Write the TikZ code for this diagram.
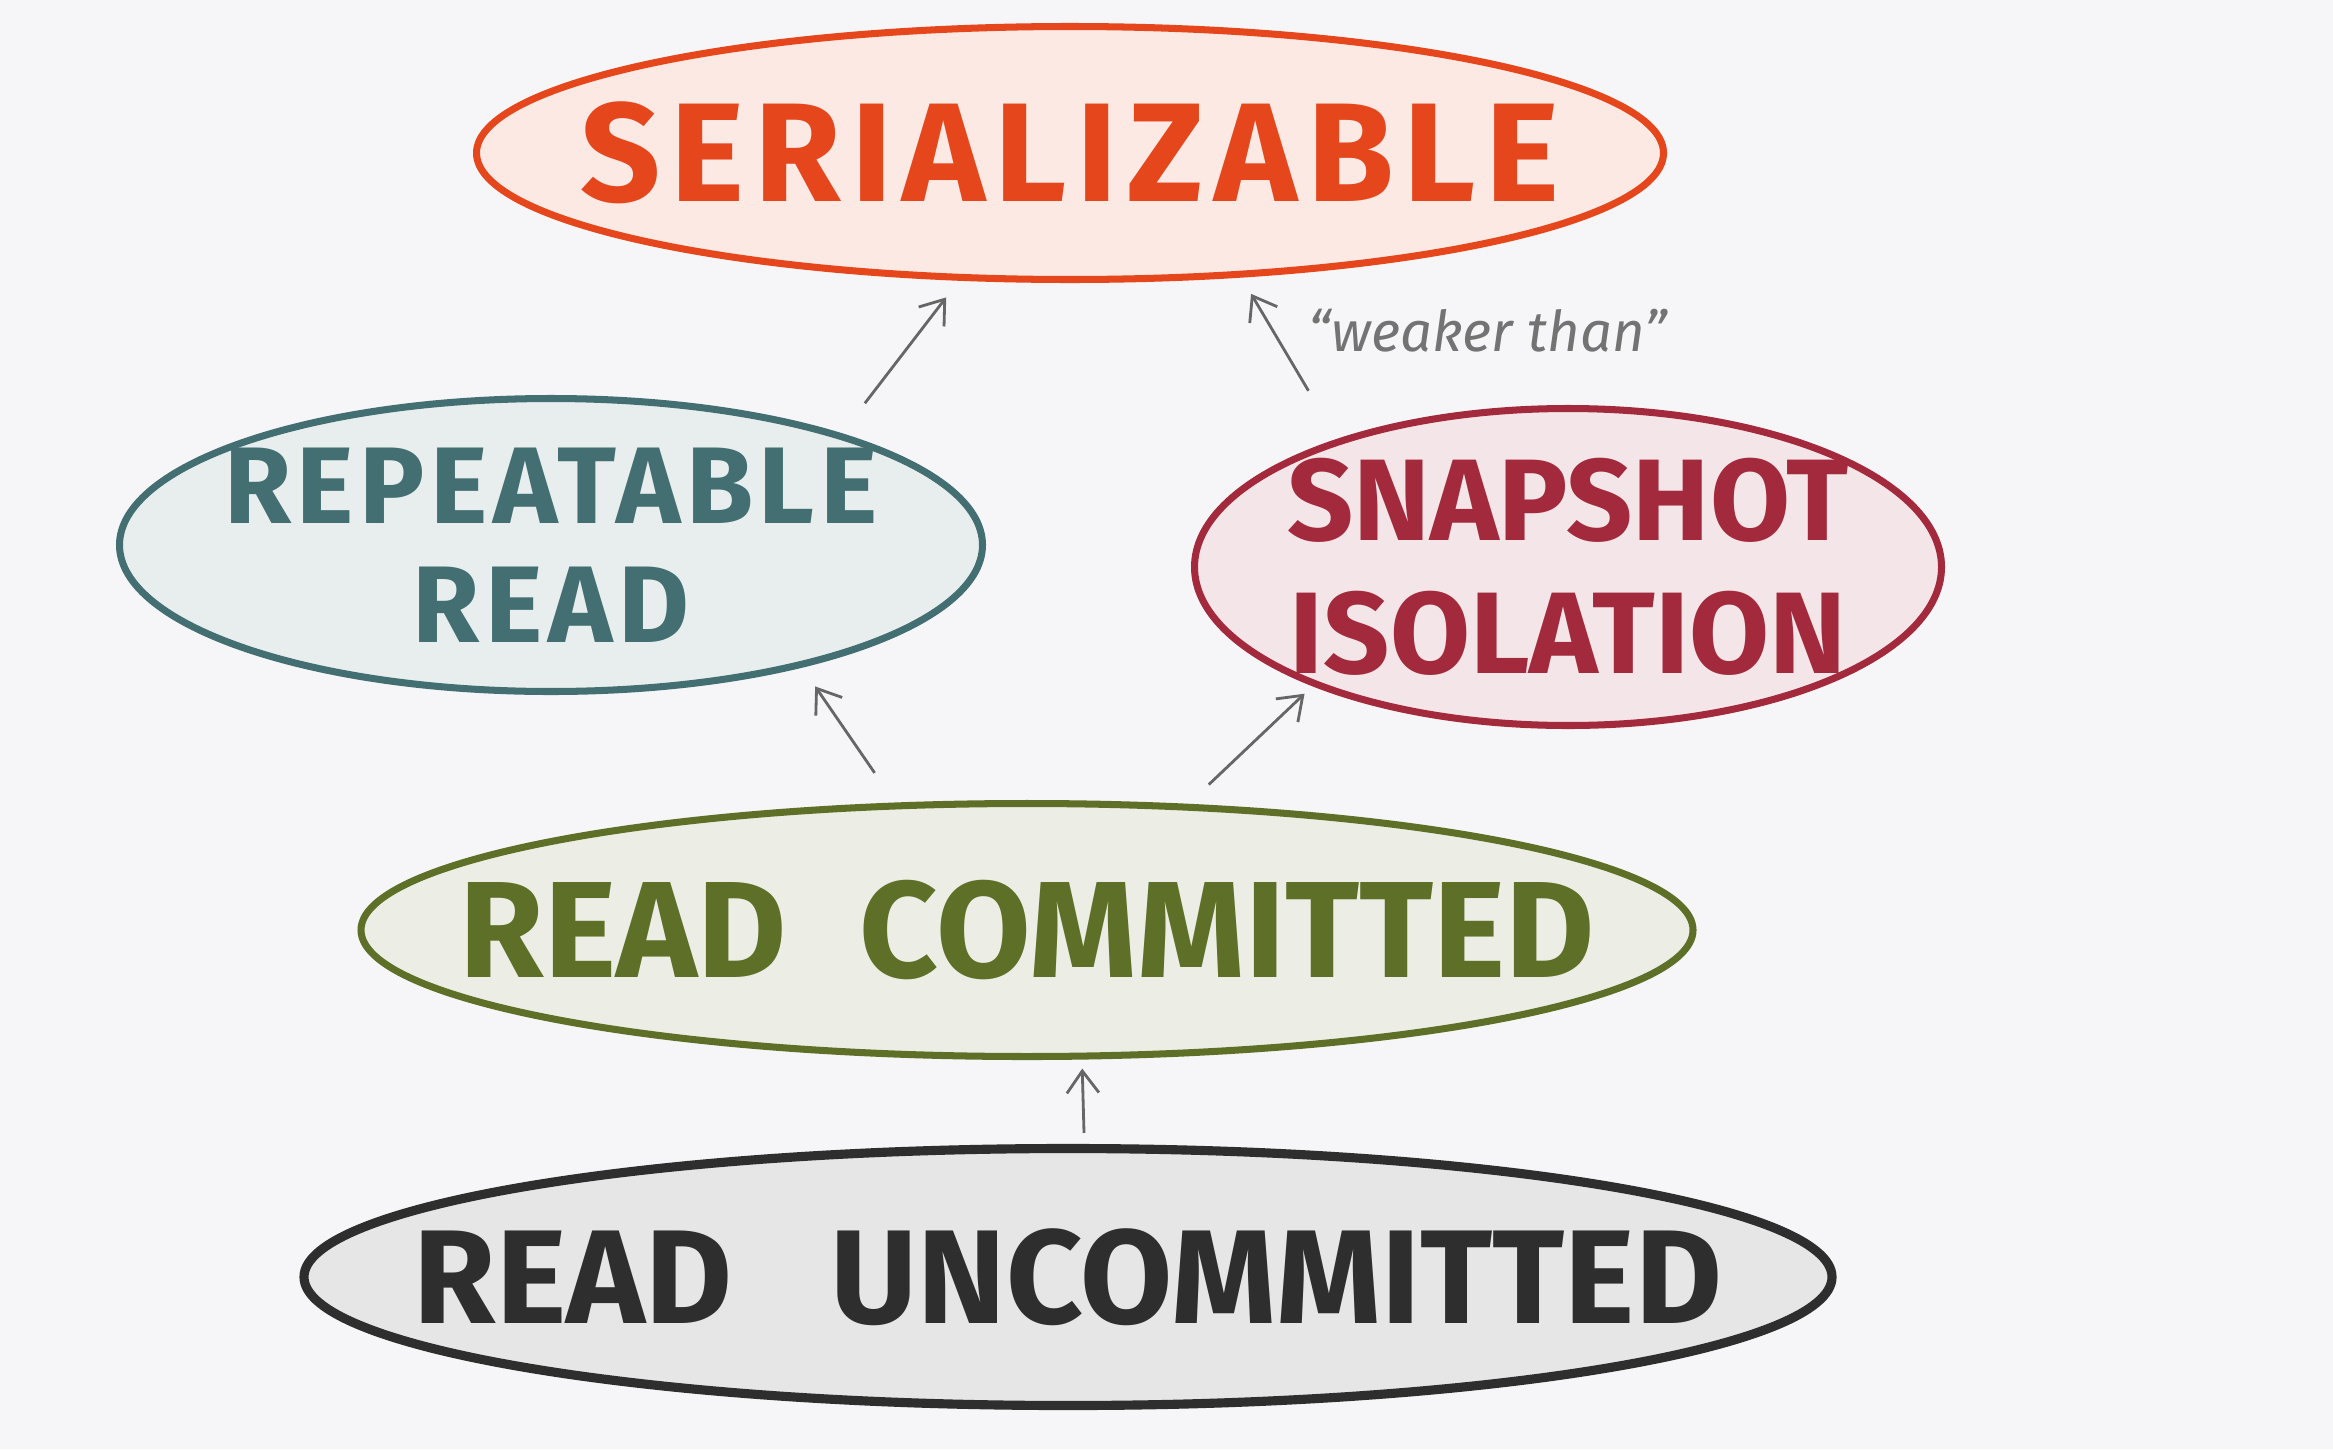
\documentclass[tikz,border=0pt]{standalone}
\usepackage{fontspec}
\setmainfont{Fira Sans}
\usetikzlibrary{arrows.meta,shapes.geometric}
\definecolor{bg}{HTML}{F6F6F8}
\definecolor{ser}{HTML}{E5461C}
\definecolor{rep}{HTML}{436F72}
\definecolor{snap}{HTML}{A32A3C}
\definecolor{com}{HTML}{5E6F27}
\definecolor{unc}{HTML}{2E2E2E}
\tikzset{iso/.style={ellipse,draw=#1,fill=#1!12,text=#1,line width=2pt,inner xsep=-1.3cm,inner ysep=-2mm,align=center},arrow/.style={-{Straight Barb[length=2.2mm,width=3.2mm]},draw=black!60,line width=0.8pt},lab/.style={text=black!55,font=\itshape\fontsize{16}{18}\selectfont}}

\begin{document}
\begin{tikzpicture}
\useasboundingbox[fill=bg] (0,0) rectangle (23.33,-14.49);
\node[iso=ser,minimum width=11.87cm,minimum height=2.53cm,font=\bfseries\fontsize{40}{46}\selectfont\addfontfeatures{LetterSpace=7}] (ser) at (10.70,-1.53) {SERIALIZABLE};
\node[iso=rep,minimum width=8.63cm,minimum height=2.93cm,font=\bfseries\fontsize{31}{34}\selectfont\addfontfeatures{LetterSpace=5}] (rr) at (5.51,-5.45) {REPEATABLE\\READ};
\node[iso=snap,minimum width=7.47cm,minimum height=3.17cm,font=\bfseries\fontsize{33}{38}\selectfont] (si) at (15.68,-5.67) {SNAPSHOT\\ISOLATION};
\node[iso=com,minimum width=13.32cm,minimum height=2.53cm,font=\bfseries\fontsize{39}{44}\selectfont] (rc) at (10.27,-9.30) {READ\hspace{0.3em} COMMITTED};
\node[iso=unc,minimum width=15.28cm,minimum height=2.57cm,line width=2.6pt,font=\bfseries\fontsize{38}{44}\selectfont] (ru) at (10.68,-12.77) {READ\hspace{0.5em} UNCOMMITTED};
\node[lab] (weaker) at (14.88,-3.31) {``weaker than''};
% weaker than
\draw[arrow,shorten <=3.8mm,shorten >=2.1mm] (rr.21.6) -- (ser.229.9);
\draw[arrow,shorten <=5.6mm,shorten >=1.9mm] (si.151) -- (ser.324);
\draw[arrow,shorten <=3.6mm,shorten >=2.3mm] (rc.136) -- (rr.334);
\draw[arrow,shorten <=2.8mm,shorten >=1.1mm] (rc.38.5) -- (si.205.4);
\draw[arrow,shorten <=1.1mm,shorten >=0.9mm] (ru.83.8) -- (rc.293.6);
\end{tikzpicture}
\end{document}
